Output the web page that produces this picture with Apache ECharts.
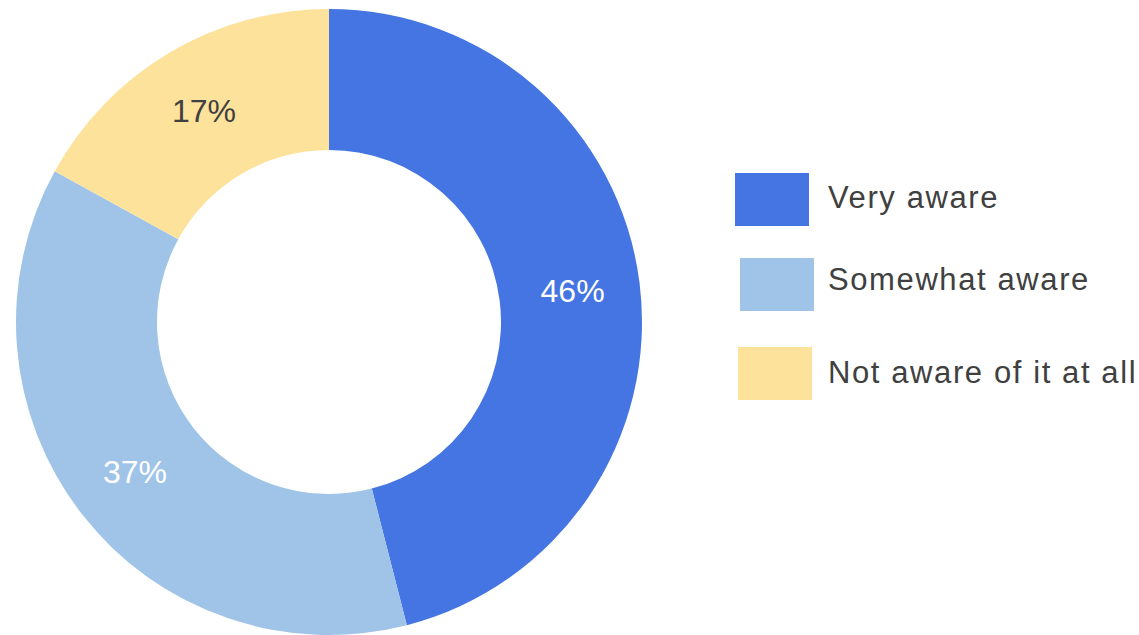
<!DOCTYPE html>
<html>
<head>
<meta charset="utf-8">
<script src="https://cdn.jsdelivr.net/npm/echarts@6/dist/echarts.min.js"></script>
<style>
  html, body { margin: 0; padding: 0; background: #ffffff; }
  #chart { width: 1139px; height: 635px; }
  /* legend captions are drawn with a touch of extra tracking */
  #chart text[fill="#404041"], #chart text[fill="rgb(64,64,65)"] { letter-spacing: 1.6px; }
</style>
</head>
<body>
<div id="chart"></div>
<script>
// Awareness survey responses
const categories = ['Very aware', 'Somewhat aware', 'Not aware of it at all'];
const shares = [46, 37, 17];
const sliceColors = ['#4475e3', '#9fc4e8', '#fde29c'];
const labelColors = ['#ffffff', '#ffffff', '#404040'];

const FONT = '"Liberation Sans", Arial, Helvetica, sans-serif';
const TEXT_LEFT = 828;

// one legend block per entry so each swatch sits at its own spot;
// lift raises the caption a little relative to its swatch
const legendSpots = [
  { left: 735, top: 173, lift: 4 },
  { left: 740, top: 258, lift: 10 },
  { left: 738, top: 347, lift: 2 }
];

const chart = echarts.init(document.getElementById('chart'), null, { renderer: 'svg' });

chart.setOption({
  animation: false,
  backgroundColor: '#ffffff',
  color: sliceColors,
  legend: categories.map((name, i) => ({
    data: [name],
    left: legendSpots[i].left,
    top: legendSpots[i].top,
    orient: 'vertical',
    padding: 0,
    itemWidth: 74,
    itemHeight: 53,
    icon: 'rect',
    selectedMode: false,
    formatter: '{t|{name}}',
    textStyle: {
      fontFamily: FONT,
      fontSize: 31,
      color: '#404041',
      padding: [0, 0, 0, TEXT_LEFT - (legendSpots[i].left + 74 + 5)],
      rich: {
        t: {
          fontFamily: FONT,
          fontSize: 31,
          color: '#404041',
          padding: [0, 0, legendSpots[i].lift, 0]
        }
      }
    }
  })),
  series: [{
    type: 'pie',
    center: [329, 322],
    radius: [172, 313],
    startAngle: 90,
    clockwise: true,
    avoidLabelOverlap: false,
    label: {
      show: true,
      position: 'inside',
      fontFamily: FONT,
      fontSize: 32,
      formatter: p => p.value + '%'
    },
    labelLine: { show: false },
    emphasis: { disabled: true },
    itemStyle: { borderWidth: 0 },
    data: categories.map((name, i) => ({
      name,
      value: shares[i],
      label: { color: labelColors[i] }
    }))
  }]
});
</script>
</body>
</html>
